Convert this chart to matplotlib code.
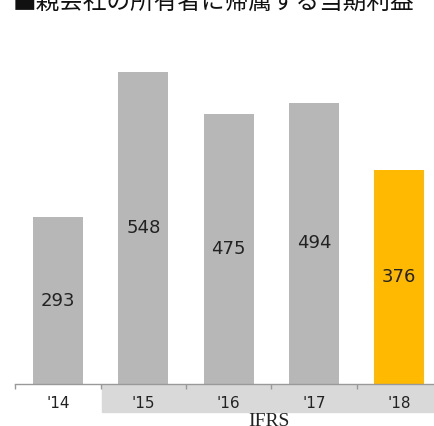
import matplotlib
matplotlib.use("Agg")
import matplotlib.pyplot as plt
from matplotlib.patches import Rectangle

# data
years = ["'14", "'15", "'16", "'17", "'18"]
profit = [293, 548, 475, 494, 376]
colors = ["#b7b7b7", "#b7b7b7", "#b7b7b7", "#b7b7b7", "#ffb900"]
title = "■親会社の所有者に帰属する当期利益"

W, H = 435, 426
fig = plt.figure(figsize=(W / 100, H / 100), dpi=100)

# axes placed in pixel terms: baseline at y=384, left edge at x=15
ax = fig.add_axes([15 / W, (H - 384) / H, 420 / W, 344 / H])
x = list(range(len(years)))
ax.bar(x, profit, width=0.586, color=colors)
ax.set_xlim(-0.504, 4.42)
ax.set_ylim(0, 604.6)

for i, v in enumerate(profit):
    ax.text(i, v / 2, str(v), ha="center", va="center", fontsize=13, color="#222222")

for s in ["top", "right", "left"]:
    ax.spines[s].set_visible(False)
ax.spines["bottom"].set_color("#999999")
ax.spines["bottom"].set_linewidth(1)
ax.set_yticks([])
ax.set_xticks([-0.5, 0.5, 1.5, 2.5, 3.5])
ax.set_xticklabels([])
ax.tick_params(axis="x", length=3.5, color="#999999", width=1)

# IFRS band behind the year labels
fig.add_artist(Rectangle((102 / W, (H - 412) / H), (W - 102) / W, 27 / H,
                         transform=fig.transFigure, color="#d9d9d9", zorder=0))

for i, lab in enumerate(years):
    xp = (15 + (i + 0.504) * 420 / 4.924) / W
    fig.text(xp, (H - 404) / H, lab, ha="center", va="center", fontsize=11, color="#222222")

fig.text(269 / W, (H - 426.5) / H, "IFRS", ha="center", va="baseline",
         fontsize=14, family="Liberation Serif", color="#222222")

fig.text(13 / W, (H - 8.5) / H, title, ha="left", va="baseline", fontsize=17,
         family=["Noto Sans CJK JP", "DejaVu Sans"], color="#111111")

fig.savefig("out.png", dpi=100)
